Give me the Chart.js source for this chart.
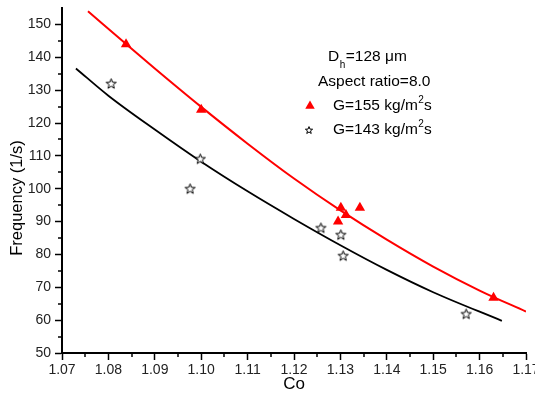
<!DOCTYPE html>
<html>
<head>
<meta charset="utf-8">
<script src="https://cdn.jsdelivr.net/npm/chart.js@4/dist/chart.umd.min.js"></script>
<style>
html,body{margin:0;padding:0;background:#fff;}
#wrap{width:535px;height:395px;position:relative;}
</style>
</head>
<body>
<div id="wrap"><canvas id="c" width="535" height="395"></canvas></div>
<script>
// ---- data ----
const g155Co   = [1.0838, 1.1000, 1.1301, 1.1295, 1.1312, 1.1342, 1.1630];
const g155Freq = [144.0, 124.0, 94.2, 90.0, 92.0, 94.2, 66.8];
const g143Co   = [1.0806, 1.0976, 1.0998, 1.1258, 1.1301, 1.1306, 1.1571];
const g143Freq = [132.0, 100.0, 109.1, 88.1, 86.0, 79.6, 61.9];
// fitted curves
const fitRedCo    = [1.0756, 1.084, 1.09, 1.10, 1.11, 1.12, 1.13, 1.14, 1.15, 1.16, 1.17];
const fitRedFreq  = [154.0, 143.8, 136.6, 124.9, 113.7, 103.1, 93.4, 84.5, 76.3, 69.0, 62.6];
const fitBlackCo   = [1.073, 1.08, 1.09, 1.10, 1.11, 1.12, 1.13, 1.14, 1.15, 1.1648];
const fitBlackFreq = [136.6, 128.3, 118.0, 108.2, 99.2, 90.8, 82.8, 75.3, 68.5, 59.8];
// axes
const xTicks = [1.07, 1.08, 1.09, 1.10, 1.11, 1.12, 1.13, 1.14, 1.15, 1.16, 1.17];
const yTicks = [50, 60, 70, 80, 90, 100, 110, 120, 130, 140, 150];
const xTitle = 'Co';
const yTitle = 'Frequency (1/s)';
const legendLines = ['128 \u03bcm', 'Aspect ratio=8.0'];
const seriesLabels = ['G=155 kg/m', 'G=143 kg/m'];

const FONT = '"Liberation Sans", Arial, Helvetica, sans-serif';

function pts(xs, ys){ return xs.map((x,i)=>({x:x, y:ys[i]})); }

// open star marker
function makeStar(size){
  const c = document.createElement('canvas');
  c.width = size; c.height = size;
  const g = c.getContext('2d');
  const cx = size/2, cy = size/2 + 0.4, R = size/2 - 1.2, r = R*0.42;
  g.beginPath();
  for (let i=0;i<10;i++){
    const a = -Math.PI/2 + i*Math.PI/5;
    const rr = (i%2===0)?R:r;
    const px = cx + rr*Math.cos(a), py = cy + rr*Math.sin(a);
    if(i===0) g.moveTo(px,py); else g.lineTo(px,py);
  }
  g.closePath();
  g.fillStyle = '#fff'; g.fill();
  g.strokeStyle = '#000'; g.lineWidth = 1; g.stroke();
  return c;
}
const starImg = makeStar(13);
const starSmall = makeStar(10);

const minorTicks = {
  id: 'minorTicks',
  afterDraw(chart){
    const ctx = chart.ctx;
    const xs = chart.scales.x, ys = chart.scales.y;
    ctx.save();
    ctx.strokeStyle = '#000';
    ctx.lineWidth = 1.5;
    for (let i=0;i<xTicks.length-1;i++){
      const v = (xTicks[i]+xTicks[i+1])/2;
      const px = Math.round(xs.getPixelForValue(v));
      ctx.beginPath(); ctx.moveTo(px, ys.bottom); ctx.lineTo(px, ys.bottom+4); ctx.stroke();
    }
    for (let i=0;i<yTicks.length-1;i++){
      const v = (yTicks[i]+yTicks[i+1])/2;
      const py = Math.round(ys.getPixelForValue(v));
      ctx.beginPath(); ctx.moveTo(xs.left, py); ctx.lineTo(xs.left-4, py); ctx.stroke();
    }
    // y title
    ctx.fillStyle = '#000';
    ctx.font = '16.5px ' + FONT;
    ctx.textAlign = 'center';
    ctx.textBaseline = 'middle';
    ctx.translate(17, 198);
    ctx.rotate(-Math.PI/2);
    ctx.fillText(yTitle, 0, 0);
    ctx.restore();

    // legend block
    ctx.save();
    ctx.fillStyle = '#000';
    ctx.textBaseline = 'middle';
    ctx.textAlign = 'left';
    ctx.font = '15.5px ' + FONT;
    ctx.fillText('D', 328, 57);
    let w = ctx.measureText('D').width;
    ctx.font = '10px ' + FONT;
    ctx.fillText('h', 328 + w + 0.5, 65);
    let wh = ctx.measureText('h').width;
    ctx.font = '15.5px ' + FONT;
    ctx.fillText('=' + legendLines[0], 328 + w + wh + 1, 57);
    ctx.fillText(legendLines[1], 318, 82);
    // entries
    const rows = [106, 130];
    for (let k=0;k<2;k++){
      const y = rows[k];
      ctx.font = '15.5px ' + FONT;
      ctx.fillText(seriesLabels[k], 333, y);
      const tw = ctx.measureText(seriesLabels[k]).width;
      ctx.font = '10px ' + FONT;
      ctx.fillText('2', 333 + tw + 0.5, y - 6);
      const sw = ctx.measureText('2').width;
      ctx.font = '15.5px ' + FONT;
      ctx.fillText('s', 333 + tw + sw + 0.5, y);
    }
    // markers
    ctx.fillStyle = '#ff0000';
    const r = 5.5, tx = 310, ty = 106;
    ctx.beginPath();
    ctx.moveTo(tx, ty - r);
    ctx.lineTo(tx + r*Math.sqrt(3)/2, ty + r/2);
    ctx.lineTo(tx - r*Math.sqrt(3)/2, ty + r/2);
    ctx.closePath(); ctx.fill();
    ctx.drawImage(starSmall, 309 - 5, 130 - 5);
    ctx.restore();
  }
};

const ctx = document.getElementById('c').getContext('2d');
new Chart(ctx, {
  type: 'scatter',
  data: {
    datasets: [
      { label: 'fit155', data: pts(fitRedCo, fitRedFreq), showLine: true, borderColor: '#ff0000', borderWidth: 2, pointRadius: 0, cubicInterpolationMode: 'monotone', order: 3 },
      { label: 'fit143', data: pts(fitBlackCo, fitBlackFreq), showLine: true, borderColor: '#000000', borderWidth: 1.8, pointRadius: 0, cubicInterpolationMode: 'monotone', order: 3 },
      { label: 'G=155 kg/m²s', data: pts(g155Co, g155Freq), pointStyle: 'triangle', pointRadius: 6, backgroundColor: '#ff0000', borderColor: '#ff0000', borderWidth: 0, order: 1 },
      { label: 'G=143 kg/m²s', data: pts(g143Co, g143Freq), pointStyle: starImg, pointRadius: 6, order: 1 }
    ]
  },
  options: {
    responsive: false,
    animation: false,
    events: [],
    layout: { padding: { left: 0, right: 9, top: 8, bottom: 0 } },
    plugins: { legend: { display: false }, tooltip: { enabled: false } },
    scales: {
      x: {
        type: 'linear', min: 1.07, max: 1.17,
        afterBuildTicks(s){ s.ticks = xTicks.map(v=>({value:v})); },
        afterFit(s){ s.height = 42; s.paddingLeft = 0; s.paddingRight = 0; },
        grid: { display: true, drawOnChartArea: false, drawTicks: true, tickLength: 7, tickWidth: 1.5, tickColor: '#000' },
        border: { display: true, color: '#000', width: 2 },
        ticks: { color: '#222', font: { family: FONT, size: 14 }, padding: 2, maxRotation: 0, autoSkip: false,
                 callback: v => Number(v).toFixed(2) },
        title: { display: true, text: xTitle, color: '#000', font: { family: FONT, size: 17 }, padding: { top: 0, bottom: 0 } }
      },
      y: {
        type: 'linear', min: 50, max: 155,
        afterBuildTicks(s){ s.ticks = yTicks.map(v=>({value:v})); },
        afterFit(s){ s.width = 62; s.paddingTop = 0; s.paddingBottom = 0; },
        grid: { display: true, drawOnChartArea: false, drawTicks: true, tickLength: 7, tickWidth: 1.5, tickColor: '#000' },
        border: { display: true, color: '#000', width: 2 },
        ticks: { color: '#222', font: { family: FONT, size: 14 }, padding: 4, autoSkip: false,
                 callback: v => String(v) },
        title: { display: false }
      }
    }
  },
  plugins: [minorTicks]
});
</script>
</body>
</html>
